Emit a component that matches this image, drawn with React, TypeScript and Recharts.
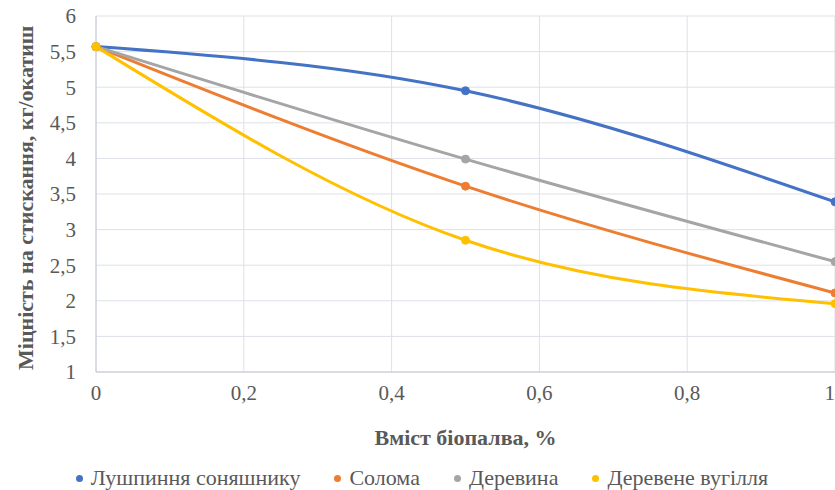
import React from "react";
import {
  LineChart,
  Line,
  XAxis,
  YAxis,
  CartesianGrid,
} from "recharts";

const biofuelShare = [0, 0.5, 1];
const sunflowerHusk = [5.57, 4.95, 3.39];
const straw = [5.57, 3.61, 2.11];
const wood = [5.57, 3.99, 2.55];
const charcoal = [5.57, 2.85, 1.96];

const xTicks = [0, 0.2, 0.4, 0.6, 0.8, 1];
const yTicks = [1, 1.5, 2, 2.5, 3, 3.5, 4, 4.5, 5, 5.5, 6];

const series = [
  { key: "husk", name: "Лушпиння соняшнику", color: "#4472C4", values: sunflowerHusk },
  { key: "straw", name: "Солома", color: "#ED7D31", values: straw },
  { key: "wood", name: "Деревина", color: "#A5A5A5", values: wood },
  { key: "charcoal", name: "Деревене вугілля", color: "#FFC000", values: charcoal },
];

const data = biofuelShare.map((x, i) => {
  const row: Record<string, number> = { x };
  series.forEach((s) => {
    row[s.key] = s.values[i];
  });
  return row;
});

const FONT = "Liberation Serif, DejaVu Serif, serif";
const TEXT = "#595959";

const fmt = (v: number) => String(v).replace(".", ",");

// legend sits under the axis title, drawn as plain html
const ChartLegend = () => (
  <div
    style={{
      position: "absolute",
      top: 465,
      left: 0,
      width: 835,
      display: "flex",
      justifyContent: "center",
      gap: 34,
      fontFamily: FONT,
      fontSize: 22,
      lineHeight: "26px",
      color: TEXT,
      paddingLeft: 9,
      boxSizing: "border-box",
    }}
  >
    {series.map((s) => (
      <span key={s.key} style={{ display: "flex", alignItems: "center" }}>
        <span
          style={{
            width: 7,
            height: 7,
            borderRadius: "50%",
            background: s.color,
            marginRight: 8,
            display: "inline-block",
          }}
        />
        {s.name}
      </span>
    ))}
  </div>
);

export default function App() {
  return (
    <div style={{ position: "absolute", left: 0, top: 0, width: 835, height: 490, background: "#fff", overflow: "hidden" }}>
      <LineChart
        width={835}
        height={490}
        data={data}
        margin={{ top: 16, right: 0, bottom: 78, left: 0 }}
      >
        <CartesianGrid stroke="#dde1e8" strokeWidth={1} />
        <XAxis
          dataKey="x"
          type="number"
          domain={[0, 1]}
          ticks={xTicks}
          tickFormatter={fmt}
          tickLine={false}
          axisLine={{ stroke: "#c3c8d2", strokeWidth: 1 }}
          tick={{ fill: TEXT, fontSize: 21, fontFamily: FONT, dy: 5 }}
          height={40}
          label={{
            value: "Вміст біопалва, %",
            position: "insideBottom",
            offset: -33,
            fill: TEXT,
            fontSize: 22,
            fontWeight: "bold",
            fontFamily: FONT,
          }}
        />
        <YAxis
          type="number"
          domain={[1, 6]}
          ticks={yTicks}
          tickFormatter={fmt}
          tickLine={false}
          axisLine={{ stroke: "#c3c8d2", strokeWidth: 1 }}
          width={96}
          tick={{ fill: TEXT, fontSize: 21, fontFamily: FONT, dx: -12 }}
          label={{
            content: () => (
              <text
                x={33}
                y={370}
                transform="rotate(-90 33 370)"
                fill={TEXT}
                fontSize={22}
                fontWeight="bold"
                fontFamily={FONT}
                textAnchor="start"
              >
                Міцність на стискання, кг/окатиш
              </text>
            ),
          }}
        />
        {series.map((s) => (
          <Line
            key={s.key}
            dataKey={s.key}
            name={s.name}
            type="monotone"
            stroke={s.color}
            strokeWidth={3}
            dot={{ r: 4, fill: s.color, stroke: s.color, strokeWidth: 1 }}
            activeDot={false}
            isAnimationActive={false}
          />
        ))}
      </LineChart>
      <ChartLegend />
    </div>
  );
}
